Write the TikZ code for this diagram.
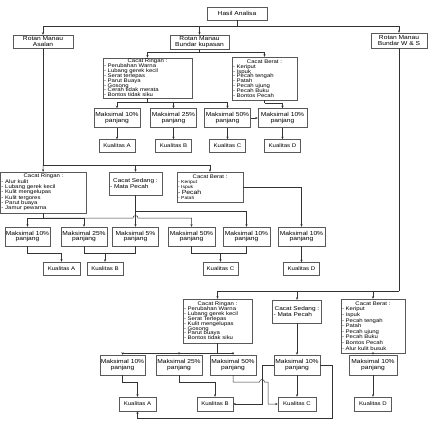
\documentclass[tikz,border=0pt]{standalone}
\usepackage{fontspec}
\setmainfont[FakeStretch=1.15]{Liberation Sans}
\usetikzlibrary{arrows.meta}
\newcommand{\judul}[1]{{\centering #1\par}}

\begin{document}
\begin{tikzpicture}[x=1pt,y=-1pt,
  kotak/.style={draw=black!65,fill=white,inner sep=1pt,align=center,
                font=\fontsize{5.8}{5.8}\selectfont},
  maks/.style={kotak,minimum width=46pt,minimum height=19pt},
  kual/.style={kotak,minimum width=36pt,minimum height=13pt,
               font=\fontsize{5.3}{5.3}\selectfont},
  daftar/.style={kotak,align=left,inner ysep=1.2pt,
                 font=\fontsize{5.2}{4.85}\selectfont},
  garis/.style={draw=black!80,line width=0.5pt},
  panah/.style={garis,-{Stealth[length=2.6pt,width=2.2pt]}}
]
\useasboundingbox (0,0) rectangle (428,437);
% baris atas
\node[kotak,minimum width=60pt,minimum height=13pt] (hasil) at (237,13.5) {Hasil Analisa};
\node[kotak,minimum width=60pt,minimum height=13pt] (asalan) at (43,41.5) {Rotan Manau\\Asalan};
\node[kotak,minimum width=59pt,minimum height=14pt] (kupasan) at (199.5,42) {Rotan Manau\\Bundar kupasan};
\node[kotak,minimum width=56pt,minimum height=15pt] (ws) at (399,40.5) {Rotan Manau\\Bundar W \& S};
\coordinate (jA) at (237,26);
\draw[garis] (hasil) -- (jA);
\draw[panah] (jA) -| (asalan);
\draw[panah] (jA) -| (kupasan);
\draw[panah] (jA) -| (ws);
% cabang kupasan
\node[daftar,text width=87pt,minimum height=40pt] (ringA) at (147.5,78)
  {\judul{Cacat Ringan :}- Perubahan Warna\\- Lubang gerek kecil\\- Serat terlepas\\- Parut Buaya\\- Gosong\\- Cerah tidak merata\\- Bontos tidak siku};
\node[daftar,text width=63pt,minimum height=43pt] (beratA) at (264.5,78.5)
  {\judul{Cacat Berat :}- Keriput\\- Ispuk\\- Pecah tengah\\- Patah\\- Pecah ujung\\- Pecah Buku\\- Bontos Pecah};
\coordinate (jB) at (199.5,52);
\draw[garis] (kupasan) -- (jB);
\draw[panah] (jB) -| (ringA);
\draw[panah] (jB) -| (beratA);
\node[maks] (mA1) at (117,118) {Maksimal 10\%\\panjang};
\node[maks] (mA2) at (173.5,118) {Maksimal 25\%\\panjang};
\node[maks] (mA3) at (227.5,118) {Maksimal 50\%\\panjang};
\node[maks,minimum width=49pt] (mA4) at (282.5,118) {Maksimal 10\%\\panjang};
\coordinate (jC) at (147.5,102);
\coordinate (jD) at (264.5,103);
\draw[garis] (ringA) -- (jC);
\draw[panah] (jC) -| (mA1);
\draw[panah] (jC) -| (mA2);
\draw[panah] (jC) -| (mA3);
\draw[garis] (beratA) -- (jD);
\draw[panah] (jD) -| (mA4);
\draw[panah] (mA3) -- (mA4);
\node[kual] (kA1) at (117,146) {Kualitas A};
\node[kual] (kA2) at (173.5,146) {Kualitas B};
\node[kual] (kA3) at (227.5,146) {Kualitas C};
\node[kual] (kA4) at (282.5,146) {Kualitas D};
\draw[panah] (mA1) -- (kA1);
\draw[panah] (mA2) -- (kA2);
\draw[panah] (mA3) -- (kA3);
\draw[panah] (mA4) -- (kA4);
% cabang asalan
\node[daftar,text width=84pt,minimum height=41pt,font=\fontsize{5.2}{5.3}\selectfont] (ringB) at (43.5,192.5)
  {\judul{Cacat Ringan :}- Alur kulit\\- Lubang gerek kecil\\- Kulit mengelupas\\- Kulit tergores\\- Parut buaya\\- Jamur pewarna};
\node[daftar,text width=51pt,minimum height=23pt,font=\fontsize{5.6}{5.4}\selectfont] (sedangB) at (135.5,183.5)
  {\judul{Cacat Sedang :}- Mata Pecah\\[5pt]};
\node[daftar,text width=64pt,minimum height=30pt,font=\fontsize{4.4}{4.8}\selectfont] (beratB) at (210,187)
  {\judul{\fontsize{5.2}{4.9}\selectfont Cacat Berat :}- Keriput\\- Ispuk\\{\fontsize{6}{5}\selectfont - Pecah}\\- Patah};
\coordinate (jE) at (43,165);
\draw[garis] (asalan) -- (jE);
\draw[panah] (jE) -- (ringB);
\draw[panah] (jE) -| (sedangB);
\draw[panah] (jE) -| (beratB);
\node[maks,minimum width=45pt] (mB1) at (27.5,236.5) {Maksimal 10\%\\panjang};
\node[maks] (mB2) at (84,236.5) {Maksimal 25\%\\panjang};
\node[maks] (mB3) at (135.5,236.5) {Maksimal 5\%\\panjang};
\node[maks,minimum width=47pt] (mB4) at (191.5,236.5) {Maksimal 50\%\\panjang};
\node[maks,minimum width=47pt] (mB5) at (246.5,236.5) {Maksimal 10\%\\panjang};
\node[maks,minimum width=47pt] (mB6) at (301.5,236.5) {Maksimal 10\%\\panjang};
\coordinate (jF) at (43.5,218);
\coordinate (jG) at (135.5,211);
\draw[garis] (ringB) -- (jF);
\draw[panah] (jF) -| (mB1);
\draw[panah] (jF) -| (mB2);
\draw[panah] (sedangB) -- (mB3);
\draw[panah] (jG) -| (mB5);
\draw[panah] (jF) -- (133,218) arc[start angle=180,end angle=360,radius=2.5] -| (mB4);
\draw[panah] (beratB.east) -| (mB6);
\node[kual,minimum width=37pt] (kB1) at (61.5,268.5) {Kualitas A};
\node[kual] (kB2) at (105,268.5) {Kualitas B};
\node[kual,minimum width=35pt] (kB3) at (220.5,268.5) {Kualitas C};
\node[kual] (kB4) at (301.5,269) {Kualitas D};
\coordinate (jI) at (61.5,253);
\coordinate (jJ) at (105,253);
\coordinate (jK) at (220.5,253);
\draw[garis] (mB1) |- (jI);
\draw[panah] (jI) -- (kB1);
\draw[garis] (mB2) |- (jJ);
\draw[garis] (mB3) |- (jJ);
\draw[panah] (jJ) -- (kB2);
\draw[garis] (mB4) |- (jK);
\draw[garis] (mB5) |- (jK);
\draw[panah] (jK) -- (kB3);
\draw[panah] (mB6) -- (kB4);
% cabang W & S
\node[daftar,text width=67pt,minimum height=44pt] (ringC) at (217.5,321)
  {\judul{Cacat Ringan :}- Perubahan Warna\\- Lubang gerek kecil\\- Serat Terlepas\\- Kulit mengelupas\\- Gosong\\- Parut buaya\\- Bontos tidak siku};
\node[daftar,text width=47pt,minimum height=23pt,font=\fontsize{5.6}{5.4}\selectfont] (sedangC) at (297,311.5)
  {\judul{Cacat Sedang :}- Mata Pecah\\[5pt]};
\node[daftar,text width=62pt,minimum height=54pt,font=\fontsize{5.2}{5.6}\selectfont] (beratC) at (373,326)
  {\judul{Cacat Berat :}- Keriput\\- Ispuk\\- Pecah tengah\\- Patah\\- Pecah ujung\\- Pecah Buku\\- Bontos Pecah\\- Alur kulit busuk};
\coordinate (jL) at (399,291);
\draw[garis] (ws) -- (jL);
\draw[panah] (jL) -| (ringC);
\draw[panah] (jL) -| (sedangC);
\draw[panah] (jL) -| (beratC);
\node[maks,minimum width=45pt,minimum height=20pt] (mC1) at (122.5,365) {Maksimal 10\%\\panjang};
\node[maks,minimum height=20pt] (mC2) at (179,365) {Maksimal 25\%\\panjang};
\node[maks,minimum height=20pt] (mC3) at (233,365) {Maksimal 50\%\\panjang};
\node[maks,minimum height=20pt] (mC4) at (297,365) {Maksimal 10\%\\panjang};
\node[maks,minimum width=48pt,minimum height=20pt] (mC5) at (373,365) {Maksimal 10\%\\panjang};
\coordinate (jM) at (217.5,353);
\draw[garis] (ringC) -- (jM);
\draw[panah] (jM) -| (mC1);
\draw[panah] (jM) -| (mC2);
\draw[panah] (jM) -| (mC3);
\draw[panah] (sedangC) -- (mC4);
\draw[panah] (beratC) -- (mC5);
\node[kual,minimum width=37pt,minimum height=14pt] (kC1) at (137.5,404) {Kualitas A};
\node[kual,minimum height=14pt] (kC2) at (215,404) {Kualitas B};
\node[kual,minimum width=38pt,minimum height=14pt] (kC3) at (297,404) {Kualitas C};
\node[kual,minimum width=37pt,minimum height=14pt] (kC4) at (373,404) {Kualitas D};
\coordinate (jN) at (137.5,382);
\coordinate (jO) at (215,382);
\draw[garis] (mC1) |- (jN);
\draw[panah] (jN) -- (kC1);
\draw[garis] (mC2) |- (jO);
\draw[panah] (jO) -- (kC2);
\draw[panah] (mC3) |- (259.5,382) arc[start angle=180,end angle=360,radius=2.5] -- (268,382) |- (kC3);
\draw[panah] (mC4) -- (kC3);
\draw[panah] (mC4.west) -- (262,365) |- (kC2);
\draw[panah] (mC4.east) -- (332,365) |- (137.5,418) -- (kC1);
\draw[panah] (mC5) -- (kC4);
\end{tikzpicture}
\end{document}
